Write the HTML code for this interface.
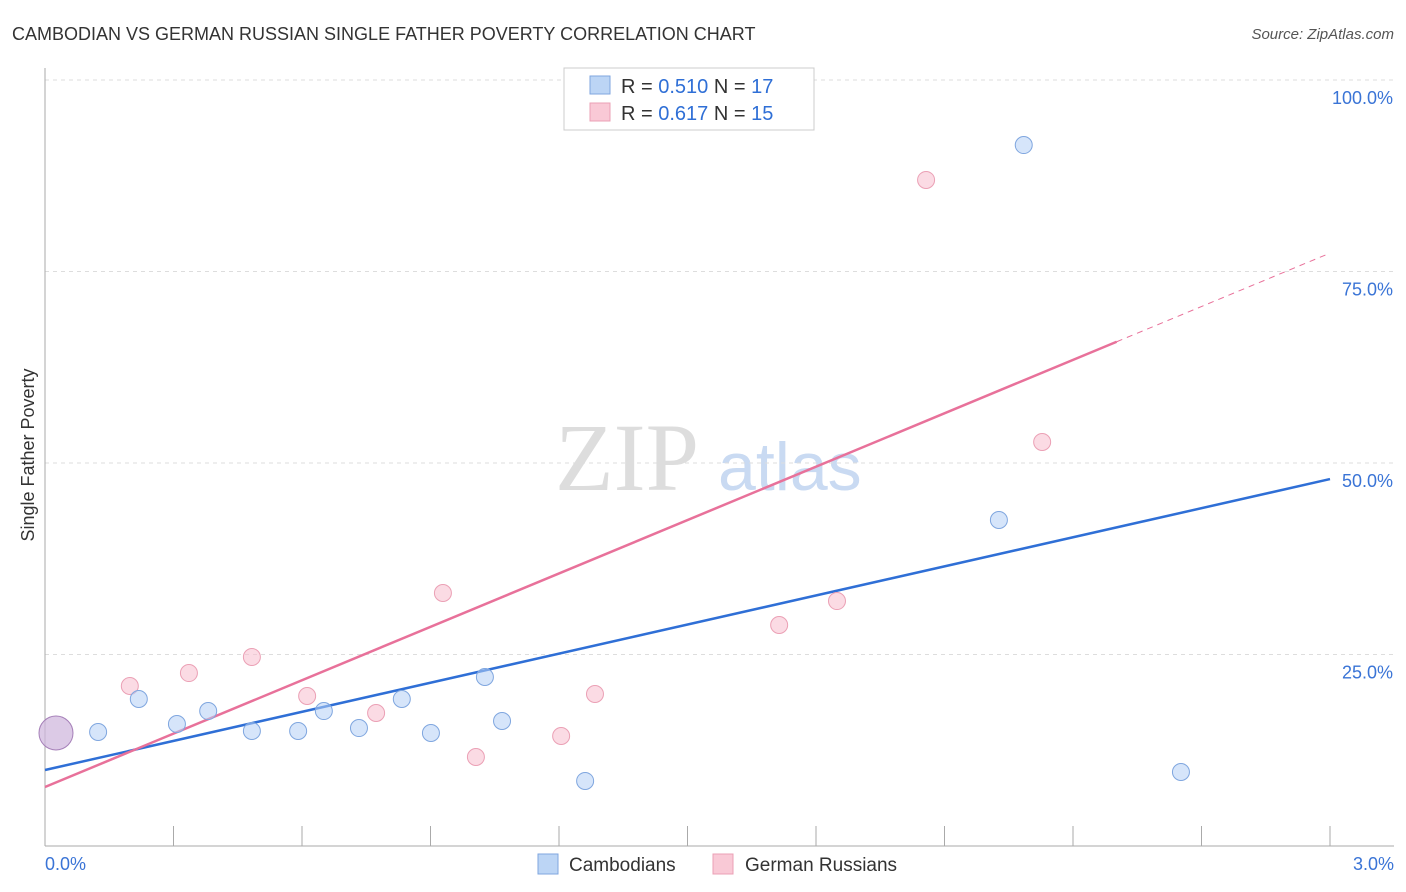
<!DOCTYPE html>
<html><head><meta charset="utf-8"><style>
body{margin:0;background:#fff;font-family:"Liberation Sans",sans-serif}
svg{display:block}
</style></head><body>
<svg id="c" width="1406" height="892">
<text x="12" y="40" font-size="18" fill="#333">CAMBODIAN VS GERMAN RUSSIAN SINGLE FATHER POVERTY CORRELATION CHART</text>
<text x="1394" y="39" font-size="15" fill="#555" font-style="italic" text-anchor="end">Source: ZipAtlas.com</text>
<text x="34" y="455" font-size="18" fill="#333" text-anchor="middle" transform="rotate(-90 34 455)">Single Father Poverty</text>
<text x="555" y="490" font-size="96" fill="#ddd" font-family="Liberation Serif,serif">ZIP</text>
<text x="718" y="490" font-size="68" fill="#c9daf2">atlas</text>
<g id="grid"></g><g id="axes"></g><g id="lines"></g><g id="pts"></g>
<g>
<rect x="564" y="68" width="250" height="62" fill="#fff" stroke="#ccc"/>
<rect x="590" y="76" width="20" height="18" fill="#bcd5f5" stroke="#7fa6df"/>
<text x="621" y="93" font-size="20" fill="#333">R = <tspan fill="#2f6fd6">0.510</tspan>   N = <tspan fill="#2f6fd6">17</tspan></text>
<rect x="590" y="103" width="20" height="18" fill="#f9c9d6" stroke="#eba0b5"/>
<text x="621" y="120" font-size="20" fill="#333">R =  <tspan fill="#2f6fd6">0.617</tspan>   N = <tspan fill="#2f6fd6">15</tspan></text>
</g>
<g>
<rect x="538" y="854" width="20" height="20" fill="#bcd5f5" stroke="#7fa6df"/>
<text x="569" y="871" font-size="19" fill="#333">Cambodians</text>
<rect x="713" y="854" width="20" height="20" fill="#f9c9d6" stroke="#eba0b5"/>
<text x="745" y="871" font-size="19" fill="#333">German Russians</text>
</g>
</svg>
<script>
const blueX=[0.028,0.124,0.219,0.308,0.381,0.483,0.591,0.651,0.733,0.833,0.901,1.027,1.067,1.261,2.227,2.285,2.652];
const blueY=[14.75,14.88,19.19,15.93,17.62,15.01,15.01,17.62,15.40,19.19,14.75,22.06,16.32,8.49,42.56,91.51,9.66];
const pinkX=[0.198,0.336,0.483,0.612,0.773,0.929,1.006,1.205,1.284,1.714,1.849,2.057,2.328,1.723];
const pinkY=[20.89,22.58,24.67,19.58,17.36,33.03,11.62,14.36,19.84,28.85,31.98,86.95,52.74,100.1];
const blueTrend=[9.92,47.9];
const pinkTrend=[7.7,77.4];
const pinkSolidEnd=2.502;
const yTicks=[25,50,75,100];
const xTickVals=[0,0.3,0.6,0.9,1.2,1.5,1.8,2.1,2.4,2.7,3.0];
const NS="http://www.w3.org/2000/svg";
const X=v=>45+v/3*1285, Y=v=>846-v/25*191.5;
function mk(p,t,a){const e=document.createElementNS(NS,t);for(const k in a)e.setAttribute(k,a[k]);document.getElementById(p).appendChild(e);return e;}
yTicks.forEach(t=>{
 let l=mk('grid','line',{x1:45,x2:1394,y1:Y(t),y2:Y(t),stroke:'#ddd','stroke-dasharray':'4,4'});
 
 
 let tx=mk('grid','text',{x:1393,y:Y(t)+24,'font-size':18,fill:'#3a74d6','text-anchor':'end'});
 tx.textContent=t.toFixed(1)+'%';
 
 
});
let ax=mk('axes','line',{x1:45,x2:45,y1:68,y2:846,stroke:'#aaa'});


let bx=mk('axes','line',{x1:45,x2:1394,y1:846,y2:846,stroke:'#aaa'});


xTickVals.forEach(v=>{let t=mk('axes','line',{x1:X(v),x2:X(v),y1:826,y2:846,stroke:'#aaa'});
 
 });
[[0,'start',45],[3,'end',1394]].forEach(([v,a,x])=>{let t=mk('axes','text',{x:x,y:870,'font-size':18,fill:'#3a74d6','text-anchor':a});t.textContent=v.toFixed(1)+'%';
 
 });
const slope=(pinkTrend[1]-pinkTrend[0])/3;
let bl=mk('lines','line',{x1:X(0),y1:Y(blueTrend[0]),x2:X(3),y2:Y(blueTrend[1]),stroke:'#2f6fd6','stroke-width':2.5});


let pl=mk('lines','line',{x1:X(0),y1:Y(pinkTrend[0]),x2:X(pinkSolidEnd),y2:Y(pinkTrend[0]+slope*pinkSolidEnd),stroke:'#e8719a','stroke-width':2.5});


let pd=mk('lines','line',{x1:X(pinkSolidEnd),y1:Y(pinkTrend[0]+slope*pinkSolidEnd),x2:X(3),y2:Y(pinkTrend[1]),stroke:'#e8719a','stroke-width':1,'stroke-dasharray':'6,5'});


pinkX.forEach((x,i)=>{let c=mk('pts','circle',{cx:X(x),cy:Y(pinkY[i]),r:8.5,fill:'rgba(248,190,206,0.55)',stroke:'#eba0b5','stroke-width':1});
 
 });
blueX.forEach((x,i)=>{let big=i===0;let c=mk('pts','circle',{cx:X(x)-(big?1:0),cy:Y(blueY[i]),r:big?17:8.5,fill:big?'rgba(205,180,220,0.7)':'rgba(180,208,245,0.55)',stroke:big?'#a57fb8':'#7fa6df','stroke-width':1});
 
 });
</script>
</body></html>
